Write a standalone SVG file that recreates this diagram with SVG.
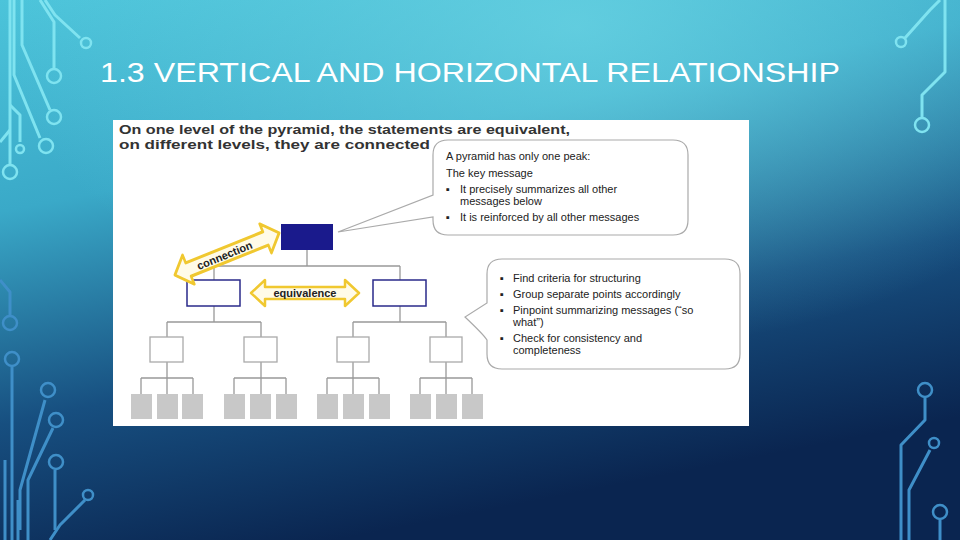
<svg xmlns="http://www.w3.org/2000/svg" width="960" height="540" viewBox="0 0 960 540">
<defs>
<linearGradient id="bg" x1="0" y1="0" x2="0.35" y2="1">
<stop offset="0" stop-color="#4cc4da"/>
<stop offset="0.35" stop-color="#3aa9c8"/>
<stop offset="0.7" stop-color="#174f80"/>
<stop offset="1" stop-color="#0a2550"/>
</linearGradient>
<radialGradient id="glow" cx="0.6" cy="0.05" r="0.6">
<stop offset="0" stop-color="#6fd8e6" stop-opacity="0.7"/>
<stop offset="1" stop-color="#6fd8e6" stop-opacity="0"/>
</radialGradient>
<path id="dbl" d="M-54,0 L-40,-13 L-40,-6 L40,-6 L40,-13 L54,0 L40,13 L40,6 L-40,6 L-40,13 Z"/>
</defs>
<style>
.tr{fill:none;stroke-width:3;stroke-linejoin:round}
.tl{stroke:#7fe3f0}
.td{stroke:#3f8fc8}
.c{fill:none;stroke-width:2.5}
.ln{stroke:#999;stroke-width:1.3;fill:none}
.b2{fill:#fff;stroke:#2a2a8a;stroke-width:1.5}
.b3{fill:#fff;stroke:#aaa;stroke-width:1.3}
.b4{fill:#c8c8c8}
.arr{fill:#fffbe8;stroke:#f0c830;stroke-width:2.5;stroke-linejoin:round}
.t{font-family:"Liberation Sans",Arial,sans-serif;fill:#222}
.co{fill:#fff;stroke:#aaa;stroke-width:1.2}
</style>
<rect width="960" height="540" fill="url(#bg)"/>
<rect width="960" height="540" fill="url(#glow)"/>
<g id="circuits">
<g class="tl">
<path class="tr" d="M45,0 L55,15 L80,38"/><circle class="c" cx="86" cy="43" r="5"/>
<path class="tr" d="M40,0 L54,22 L54,68"/><circle class="c" cx="54" cy="76" r="7"/>
<path class="tr" d="M22,0 L22,45 L50,110"/><circle class="c" cx="54" cy="117" r="7"/>
<path class="tr" d="M14,0 L14,75 L40,138"/><circle class="c" cx="46" cy="146" r="7"/>
<path class="tr" d="M10,0 L10,165"/><circle class="c" cx="10" cy="172" r="7"/>
<path class="tr" d="M10,105 L20,115 L20,142"/><circle class="c" cx="20" cy="149" r="4"/>
<path class="tr" d="M0,142 L10,130"/>
<path class="tr" d="M940,0 L930,10 L905,38"/><circle class="c" cx="901" cy="42" r="5"/>
<path class="tr" d="M945,0 L945,72 L922,95 L922,117"/><circle class="c" cx="922" cy="125" r="7"/>
</g>
<g class="td">
<path class="tr" d="M0,280 L10,292 L10,315"/><circle class="c" cx="10" cy="323" r="7"/>
<path class="tr" d="M12,367 L12,540"/><circle class="c" cx="12" cy="359" r="7"/>
<path class="tr" d="M5,460 L5,540"/>
<path class="tr" d="M18,500 L18,540"/>
<path class="tr" d="M20,530 L20,490 L45,400"/><circle class="c" cx="48" cy="390" r="7"/>
<path class="tr" d="M28,540 L28,480 L53,428"/><circle class="c" cx="56" cy="420" r="7"/>
<path class="tr" d="M55,470 L55,530"/><circle class="c" cx="56" cy="462" r="7"/>
<path class="tr" d="M50,540 L60,525 L85,500"/><circle class="c" cx="88" cy="495" r="5"/>
<path class="tr" d="M925,398 L925,420 L901,445 L901,540"/><circle class="c" cx="925" cy="390" r="7"/>
<path class="tr" d="M909,540 L909,490 L930,450"/><circle class="c" cx="934" cy="443" r="5"/>
<path class="tr" d="M940,520 L940,540"/><circle class="c" cx="940" cy="512" r="7"/>
</g>
</g>
<text class="t" x="100" y="82" font-size="28" textLength="740" lengthAdjust="spacingAndGlyphs" style="fill:#fff">1.3 VERTICAL AND HORIZONTAL RELATIONSHIP</text>
<rect x="113" y="120" width="636" height="306" fill="#fff"/>
<g id="header">
<text class="t" x="119" y="134" font-size="13.5" font-weight="bold" textLength="451" lengthAdjust="spacingAndGlyphs" style="fill:#333">On one level of the pyramid, the statements are equivalent,</text>
<text class="t" x="119" y="149" font-size="13.5" font-weight="bold" textLength="311" lengthAdjust="spacingAndGlyphs" style="fill:#333">on different levels, they are connected</text>
</g>
<g id="connectors">
<path class="ln" d="M307,250 V266 M214,266 H400 M214,266 V280 M400,266 V280"/>
<path class="ln" d="M214,306 V322 M167,322 H261 M167,322 V337 M261,322 V337"/>
<path class="ln" d="M400,306 V322 M353,322 H446 M353,322 V337 M446,322 V337"/>
<path class="ln" d="M167,362 V394 M141,378 H193 M141,378 V394 M193,378 V394"/>
<path class="ln" d="M261,362 V394 M234,378 H286 M234,378 V394 M286,378 V394"/>
<path class="ln" d="M353,362 V394 M327,378 H379 M327,378 V394 M379,378 V394"/>
<path class="ln" d="M446,362 V394 M420,378 H472 M420,378 V394 M472,378 V394"/>
</g>
<g id="peak"><rect x="281" y="224" width="52" height="26" fill="#1a1a8c"/></g>
<g id="l2left"><rect class="b2" x="187" y="280" width="53" height="26"/></g>
<g id="l2right"><rect class="b2" x="373" y="280" width="53" height="26"/></g>
<g id="l3">
<rect class="b3" x="150" y="337" width="33" height="25"/>
<rect class="b3" x="244" y="337" width="33" height="25"/>
<rect class="b3" x="337" y="337" width="32" height="25"/>
<rect class="b3" x="430" y="337" width="32" height="25"/>
</g>
<g id="l4">
<rect class="b4" x="131" y="394" width="21" height="25"/><rect class="b4" x="157" y="394" width="21" height="25"/><rect class="b4" x="182" y="394" width="21" height="25"/>
<rect class="b4" x="224" y="394" width="21" height="25"/><rect class="b4" x="250" y="394" width="21" height="25"/><rect class="b4" x="276" y="394" width="21" height="25"/>
<rect class="b4" x="317" y="394" width="21" height="25"/><rect class="b4" x="343" y="394" width="21" height="25"/><rect class="b4" x="369" y="394" width="21" height="25"/>
<rect class="b4" x="410" y="394" width="21" height="25"/><rect class="b4" x="436" y="394" width="21" height="25"/><rect class="b4" x="462" y="394" width="21" height="25"/>
</g>
<g id="connection">
<use href="#dbl" class="arr" transform="translate(227,254) rotate(-22) scale(1.04,1.2)"/>
<text class="t" font-size="11" font-weight="bold" transform="translate(226,259) rotate(-22)" text-anchor="middle">connection</text>
</g>
<g id="equivalence">
<use href="#dbl" class="arr" transform="translate(305,293)"/>
<text class="t" x="305" y="297" font-size="11" font-weight="bold" text-anchor="middle">equivalence</text>
</g>
<g id="callout1">
<path class="co" d="M448,140 H673 Q688,140 688,155 V220 Q688,235 673,235 H448 Q433,235 433,220 V217 L338,232 L433,195 V155 Q433,140 448,140 Z"/>
<g class="t" font-size="11">
<text x="446" y="160">A pyramid has only one peak:</text>
<text x="446" y="177">The key message</text>
<text x="446" y="193">▪</text><text x="460" y="193">It precisely summarizes all other</text>
<text x="460" y="205">messages below</text>
<text x="446" y="221">▪</text><text x="460" y="221">It is reinforced by all other messages</text>
</g>
</g>
<g id="callout2">
<path class="co" d="M502,259 H725 Q740,259 740,274 V354 Q740,369 725,369 H502 Q487,369 487,354 V340 Q484,335 465,317 L487,303 V274 Q487,259 502,259 Z"/>
<g class="t" font-size="11">
<text x="500" y="282">▪</text><text x="513" y="282">Find criteria for structuring</text>
<text x="500" y="298">▪</text><text x="513" y="298">Group separate points accordingly</text>
<text x="500" y="314">▪</text><text x="513" y="314">Pinpoint summarizing messages (“so</text>
<text x="513" y="326">what”)</text>
<text x="500" y="342">▪</text><text x="513" y="342">Check for consistency and</text>
<text x="513" y="354">completeness</text>
</g>
</g>
</svg>
